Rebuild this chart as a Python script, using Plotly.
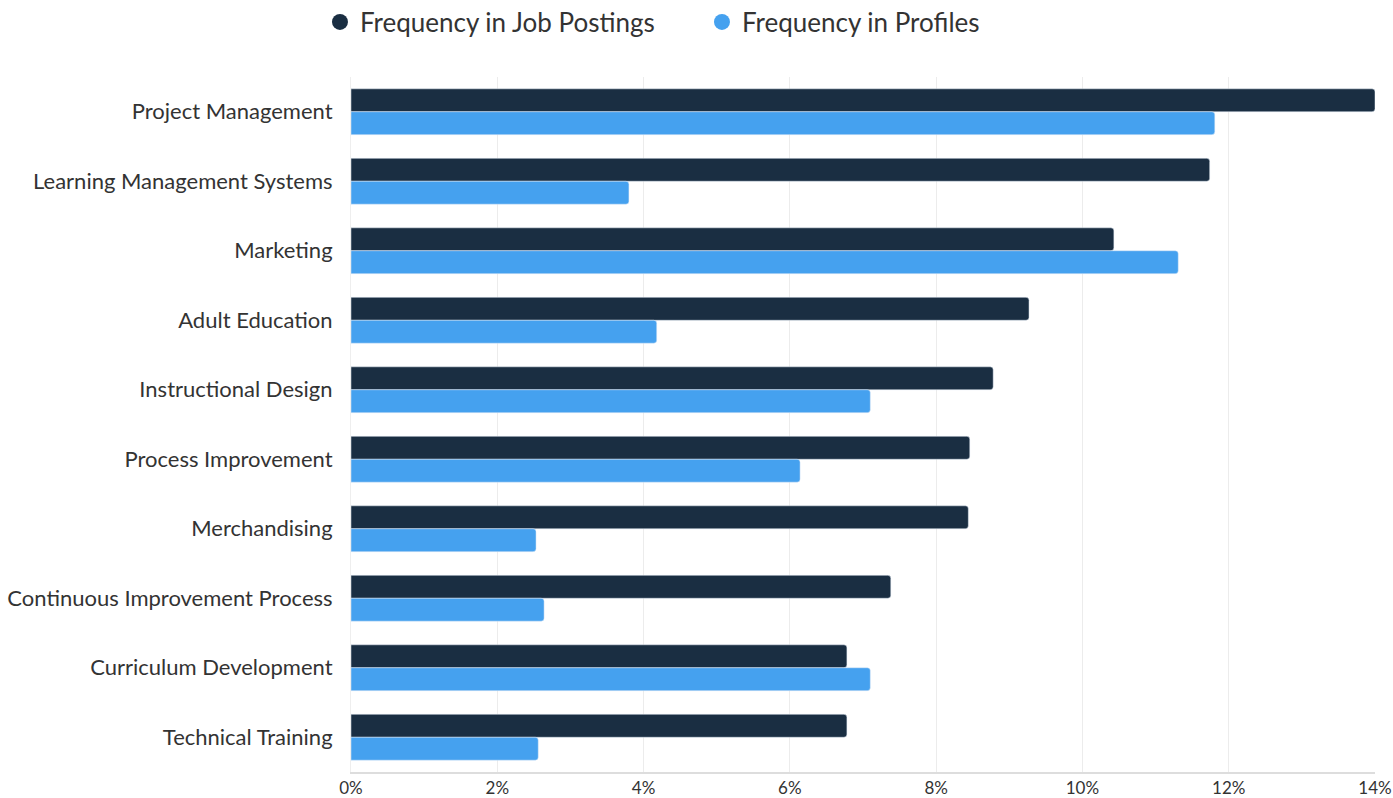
import plotly.graph_objects as go

categories = ["Project Management", "Learning Management Systems", "Marketing",
              "Adult Education", "Instructional Design", "Process Improvement",
              "Merchandising", "Continuous Improvement Process",
              "Curriculum Development", "Technical Training"]
job_postings = [14.0, 11.74, 10.43, 9.27, 8.78, 8.46, 8.44, 7.38, 6.78, 6.78]
profiles = [11.81, 3.80, 11.31, 4.18, 7.10, 6.14, 2.53, 2.64, 7.10, 2.56]
tick_vals = [0, 2, 4, 6, 8, 10, 12, 14]
tick_text = ["0%", "2%", "4%", "6%", "8%", "10%", "12%", "14%"]

dark = "#1a2e42"
blue = "#45a1ef"

fig = go.Figure()
fig.add_trace(go.Bar(y=categories, x=job_postings, orientation="h",
                     marker_color=dark, showlegend=False, name="Frequency in Job Postings"))
fig.add_trace(go.Bar(y=categories, x=profiles, orientation="h",
                     marker_color=blue, showlegend=False, name="Frequency in Profiles"))
fig.add_trace(go.Scatter(x=[None], y=[None], mode="markers", name="Frequency in Job Postings",
                         marker=dict(symbol="circle", size=18, color=dark)))
fig.add_trace(go.Scatter(x=[None], y=[None], mode="markers", name="Frequency in Profiles",
                         marker=dict(symbol="circle", size=18, color=blue)))

fig.update_layout(
    width=1393, height=798,
    margin=dict(l=351, r=18, t=77, b=26, autoexpand=False),
    paper_bgcolor="white", plot_bgcolor="white",
    font=dict(family="Lato", color="#333333"),
    barmode="group", bargap=0.34, bargroupgap=0.0,
    barcornerradius=3,
    legend=dict(orientation="h", xref="container", yref="container",
                x=0.2297, xanchor="left", y=0.9724, yanchor="middle",
                font=dict(size=26, color="#333333"), itemwidth=30,
                entrywidth=337, traceorder="normal"),
    xaxis=dict(range=[0, 14.0], tickvals=tick_vals, ticktext=tick_text,
               showgrid=True, gridcolor="#ececec", gridwidth=1,
               showline=True, linecolor="#dddddd", linewidth=2,
               zeroline=False, tickfont=dict(size=17, color="#333333"),
               ticks="", ticklen=0, automargin=False, ticklabeloverflow="allow"),
    yaxis=dict(autorange="reversed", showgrid=False, zeroline=False,
               showline=True, linecolor="#eeeeee", automargin=False,
               tickfont=dict(size=22, color="#333333"), ticks="", ticklabelstandoff=13),
)

fig.write_html("out.html", config={"displayModeBar": False},
               post_script="document.body.style.margin='0';document.body.style.overflow='hidden';")
